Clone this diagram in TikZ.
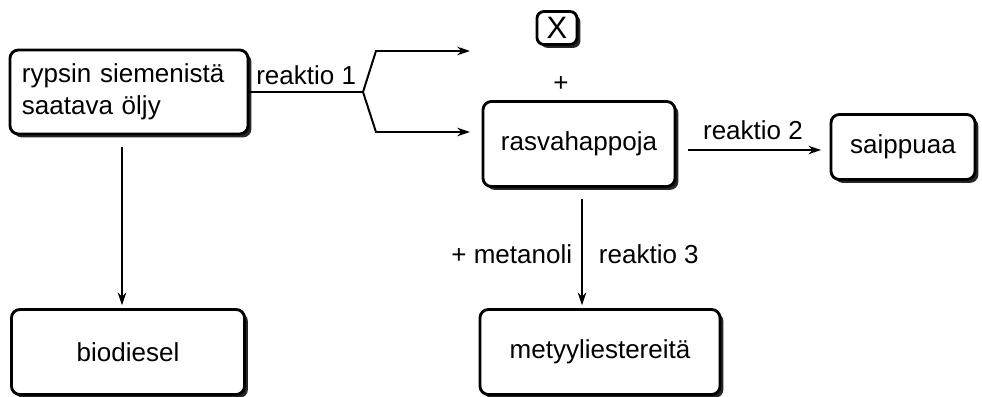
\documentclass[tikz,border=0pt]{standalone}
\usepackage{fontspec}
\setmainfont{Liberation Sans}
\usetikzlibrary{calc, positioning, shadows, arrows.meta}

\begin{document}
\begin{tikzpicture}[x=0.025cm,y=-0.025cm,>={Stealth[length=9pt,width=6pt]},
                    font=\fontsize{18.5}{23}\selectfont,
                    box/.style={draw,fill=white,rounded corners=6pt,line width=2pt,
                      drop shadow={shadow xshift=2.4pt,shadow yshift=-2.4pt,fill=black!85,opacity=1}},
                    link/.style={->,line width=1.4pt}]

  \useasboundingbox (0,0) rectangle (982,396);

  \node[box,minimum height=2.1cm,text width=5.35cm,inner xsep=0.3cm,align=left] (oil) at (129,92)
    {rypsin siemenistä\\saatava öljy};
  \node[box,minimum width=5.825cm,minimum height=2.125cm] (bio) at (128,352) {biodiesel};
  \node[box,minimum width=1cm,minimum height=0.825cm,rounded corners=5pt,inner sep=1pt] (x) at (557,28)
    {\fontsize{22}{22}\selectfont X};
  \node (plus) at (561,84) {+};
  \node[box,minimum width=4.8cm,minimum height=2.125cm] (acids) at (579,144) {rasvahappoja};
  \node[box,minimum width=3.6cm,minimum height=1.625cm] (soap) at (903,147) {saippuaa};
  \node[box,minimum width=6cm,minimum height=2.125cm] (esters) at (600,352) {metyyliestereitä};

  % reaktio 1 forks into two
  \coordinate (fork) at (363,92);
  \coordinate (upbend) at (376,51);
  \coordinate (uptip) at (470,51);
  \coordinate (lowbend) at (376,132);
  \coordinate (lowtip) at (470,132);

  \draw[line width=1.4pt] (oil.east) -- node[above=1pt] {reaktio 1} (fork);
  \draw[link] (fork) -- (upbend) -- (uptip);
  \draw[link] (fork) -- (lowbend) -- (lowtip);

  \draw[link,shorten <=8pt,shorten >=6pt] (acids.east |- soap.west) ++(0,3)
    -- node[above=3pt] {reaktio 2} ($(soap.west)+(0,3)$);
  \draw[link,shorten <=8pt,shorten >=2pt] ($(acids.south)+(3,0)$) -- ($(esters.north)+(-18,0)$)
    node[pos=0.55,left=3pt] {+ metanoli}
    node[pos=0.55,right=8pt] {reaktio 3};
  \draw[link,shorten <=8pt,shorten >=2pt] ($(oil.south)+(-7,0)$) -- ($(bio.north)+(-6,0)$);

\end{tikzpicture}
\end{document}
